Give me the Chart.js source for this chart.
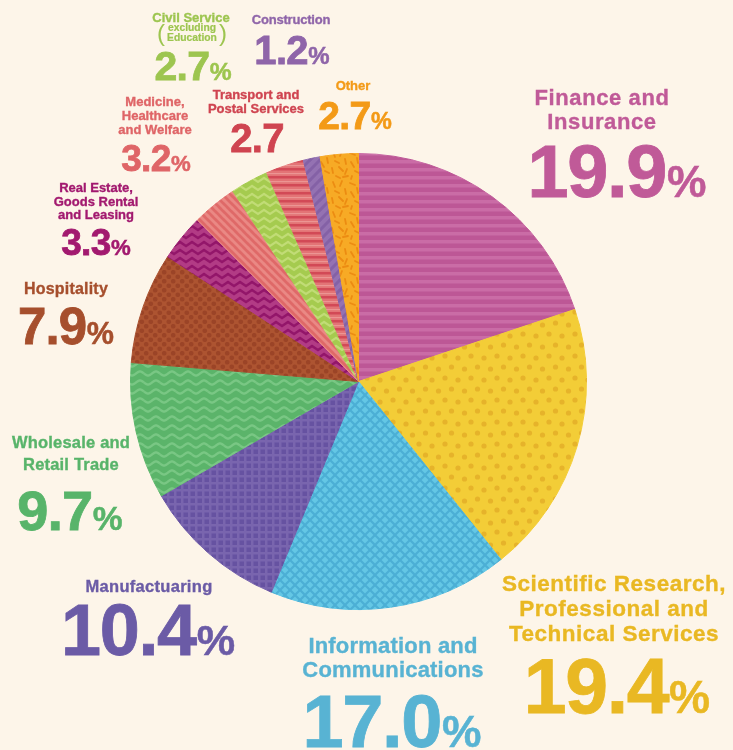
<!DOCTYPE html>
<html><head><meta charset="utf-8">
<script src="https://cdn.jsdelivr.net/npm/chart.js@4.4.0/dist/chart.umd.min.js"></script>
<style>
html,body{margin:0;padding:0;background:#fdf5e9;}
#wrap{position:relative;width:733px;height:750px;overflow:hidden;background:#fdf5e9;font-family:"Liberation Sans",Arial,Helvetica,sans-serif;font-weight:bold;}
#c{position:absolute;left:0;top:0;}
.name{position:absolute;white-space:nowrap;text-align:center;transform:translateX(-50%);-webkit-text-stroke:0.35px currentColor;}
.val{position:absolute;white-space:nowrap;line-height:1;transform:translateX(-50%);-webkit-text-stroke:0.8px currentColor;}
.val .num{letter-spacing:-0.018em;}
.val .pc{font-size:0.6em;letter-spacing:0;margin-left:0.02em;-webkit-text-stroke:0.5px currentColor;}
.sub{position:absolute;display:flex;align-items:center;transform:translateX(-50%);white-space:nowrap;}
.sub .par{font-weight:normal;font-size:24px;line-height:20px;margin:0 2px;}
.sub .lines{font-size:10.3px;line-height:10px;text-align:center;-webkit-text-stroke:0.2px currentColor;}
</style></head>
<body><div id="wrap"><canvas id="c" width="733" height="750"></canvas></div>
<script>
// ---- data ----
const categories = ["Finance and Insurance","Scientific Research, Professional and Technical Services","Information and Communications","Manufactuaring","Wholesale and Retail Trade","Hospitality","Real Estate, Goods Rental and Leasing","Medicine, Healthcare and Welfare","Civil Service (excluding Education)","Transport and Postal Services","Construction","Other"];
const values = [19.9,19.4,17.0,10.4,9.7,7.9,3.3,3.2,2.7,2.7,1.2,2.7];
const nameLines = [["Finance and","Insurance"],["Scientific Research,","Professional and","Technical Services"],["Information and","Communications"],["Manufactuaring"],["Wholesale and","Retail Trade"],["Hospitality"],["Real Estate,","Goods Rental","and Leasing"],["Medicine,","Healthcare","and Welfare"],["Civil Service"],["Transport and","Postal Services"],["Construction"],["Other"]];
const nameNotes = ["","","","","","","","","excluding|Education","","",""];
const percentShown = [true,true,true,true,true,true,true,true,true,false,true,true];

// ---- styles ----
const textColors = ["#c05a98","#e9b823","#58b3d3","#6b5ba6","#58b46a","#a64f2d","#a2196f","#df6567","#9dc54f","#cf4450","#8f65a9","#f39a17"];
// label layout: nx,ny(cap top),nf,nlh,ls | vx(center),vy(digit top),vf
const layout = [
 {nx:602,ny:90,nf:22,nlh:23.5,ls:0.6,vx:617,vy:145,vf:74},
 {nx:614,ny:575,nf:22.5,nlh:25,ls:0.5,vx:617,vy:658,vf:77},
 {nx:393,ny:638,nf:22,nlh:23.5,ls:0.2,vx:392,vy:695,vf:74},
 {nx:149,ny:580,nf:16.5,nlh:20,ls:0.3,vx:148,vy:603,vf:72},
 {nx:71,ny:437,nf:16.5,nlh:21.5,ls:0.2,vx:70,vy:490,vf:56},
 {nx:66,ny:283,nf:16,nlh:18,ls:0.2,vx:66,vy:308,vf:51},
 {nx:96,ny:183,nf:13,nlh:13.7,ls:0,vx:96,vy:229,vf:37},
 {nx:155,ny:97,nf:13,nlh:14,ls:0,vx:156,vy:145,vf:37},
 {nx:191,ny:12.5,nf:13,nlh:13,ls:0,vx:193,vy:51,vf:41},
 {nx:256,ny:90,nf:13,nlh:14,ls:0,vx:257,vy:123,vf:40},
 {nx:291,ny:15,nf:13,nlh:13,ls:-0.2,vx:292,vy:35,vf:40},
 {nx:353,ny:81,nf:13,nlh:13,ls:0,vx:355,vy:101,vf:39}
];

const canvas = document.getElementById('c');
const ctx = canvas.getContext('2d');

function tile(w,h,bg,draw){
  const c=document.createElement('canvas');c.width=w;c.height=h;
  const g=c.getContext('2d');g.fillStyle=bg;g.fillRect(0,0,w,h);
  for(const dx of [-w,0,w])for(const dy of [-h,0,h]){g.save();g.translate(dx,dy);draw(g);g.restore();}
  return ctx.createPattern(c,'repeat');
}
function lines(g,col,lw,segs){g.strokeStyle=col;g.lineWidth=lw;g.lineCap='round';g.beginPath();for(const s of segs){g.moveTo(s[0],s[1]);for(let i=2;i<s.length;i+=2)g.lineTo(s[i],s[i+1]);}g.stroke();}
function dots(g,col,r,pts){g.fillStyle=col;for(const p of pts){g.beginPath();g.arc(p[0],p[1],r,0,Math.PI*2);g.fill();}}

const patterns = [
  tile(8,8,"#bd5796",g=>{g.fillStyle="#ca6ca6";g.fillRect(0,0,8,3.5);}),
  tile(26,22,"#f3cd37",g=>dots(g,"#e6b32a",2.6,[[3,4],[16,6],[9.5,15],[22.5,17]])),
  tile(10,10,"#64c7e5",g=>{g.lineCap='butt';g.strokeStyle="#4cafd5";g.lineWidth=2.2;g.beginPath();g.moveTo(0,0);g.lineTo(10,10);g.moveTo(10,0);g.lineTo(0,10);g.stroke();}),
  tile(7,7,"#7965ae",g=>{g.fillStyle="#6652a1";g.fillRect(1.5,1.5,4.5,4.5);}),
  tile(16,9,"#5bb46a",g=>{g.strokeStyle="#79c784";g.lineWidth=2.4;g.beginPath();for(let x=0;x<=16;x+=0.5){const y=4.5+2*Math.sin(x/16*Math.PI*2);x===0?g.moveTo(x,y):g.lineTo(x,y);}g.stroke();}),
  tile(9,9,"#ad5431",g=>dots(g,"#9b4427",2.3,[[2.25,2.25],[6.75,6.75]])),
  tile(12,8,"#b23b85",g=>{g.lineCap='butt';lines(g,"#93166a",2.4,[[0,2,6,6,12,2]]);}),
  tile(8,8,"#df6968",g=>{g.lineCap='butt';lines(g,"#ea8884",2.8,[[0,0,8,8]]);}),
  tile(12,8,"#a5cb4f",g=>{g.lineCap='butt';lines(g,"#c1dc76",2.2,[[0,2,6,6,12,2]]);}),
  tile(8,8,"#e37476",g=>{g.fillStyle="#d24956";g.fillRect(0,0,8,2.5);g.fillStyle="#ec9593";g.fillRect(0,5,8,1.2);}),
  tile(10,10,"#9472b2",g=>{g.lineCap='butt';lines(g,"#8461a6",3,[[0,10,10,0]]);}),
  tile(30,30,"#f7aa25",g=>lines(g,"#ec8c12",1.8,[[3,2,5,7],[12,1,10,6],[20,3,25,5],[27,8,28,13],[5,11,9,13],[15,9,16,14],[21,12,24,17],[2,18,3,23],[9,17,13,21],[17,19,15,24],[25,21,29,23],[6,26,10,28],[13,27,18,26],[22,26,21,29]]))
];

new Chart(ctx,{
  type:'pie',
  data:{labels:categories,datasets:[{data:values,backgroundColor:patterns,borderColor:patterns,borderWidth:1,hoverOffset:0}]},
  options:{responsive:false,animation:false,events:[],
    layout:{padding:{left:130,right:146,top:153,bottom:140}},
    plugins:{legend:{display:false},tooltip:{enabled:false}}}
});

// ---- labels (HTML text) ----
const wrap=document.getElementById('wrap');
categories.forEach((cat,i)=>{
  const L=layout[i], col=textColors[i];
  const n=document.createElement('div');n.className='name';
  n.style.color=col;n.style.fontSize=L.nf+'px';n.style.lineHeight=L.nlh+'px';n.style.letterSpacing=L.ls+'px';
  n.style.left=L.nx+'px';n.style.top=(L.ny-L.nlh/2+0.3695*L.nf)+'px';
  n.innerHTML=nameLines[i].join('<br>');
  wrap.appendChild(n);
  if(nameNotes[i]){
    const s=document.createElement('div');s.className='sub';s.style.color=col;
    s.style.left=(L.nx+1)+'px';s.style.top='23px';
    const p=nameNotes[i].split('|');
    s.innerHTML='<span class="par">(</span><span class="lines">'+p.join('<br>')+'</span><span class="par">)</span>';
    wrap.appendChild(s);
  }
  const v=document.createElement('div');v.className='val';
  v.style.color=col;v.style.fontSize=L.vf+'px';
  v.style.left=L.vx+'px';v.style.top=(L.vy-0.1305*L.vf)+'px';
  v.innerHTML='<span class="num">'+values[i].toFixed(1)+'</span>'+(percentShown[i]?'<span class="pc">%</span>':'');
  wrap.appendChild(v);
});
</script>
</body></html>
